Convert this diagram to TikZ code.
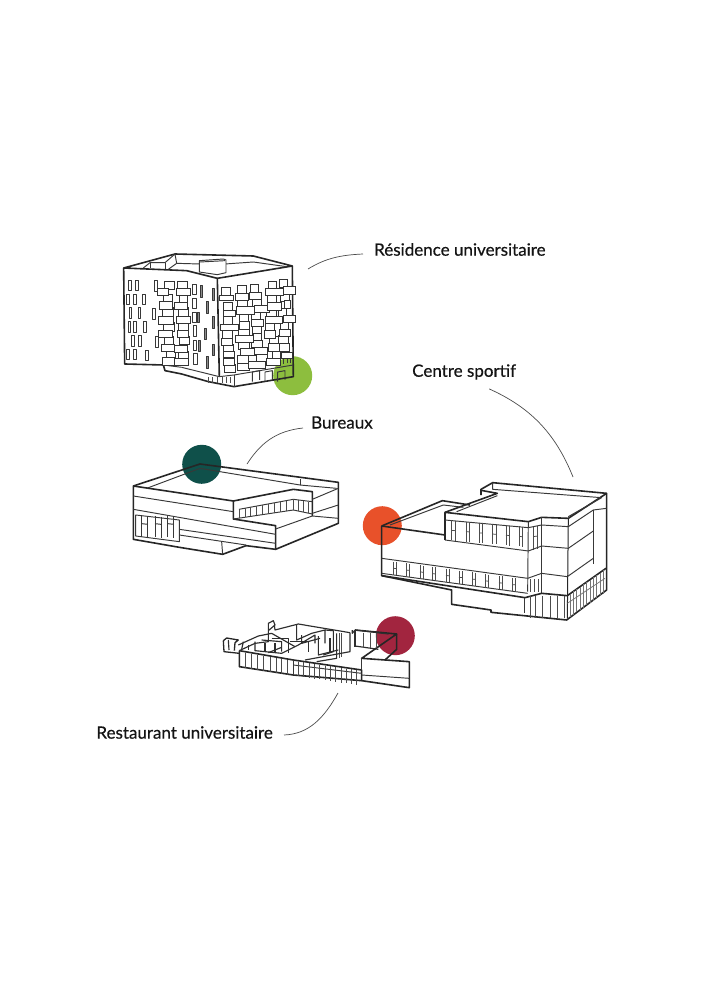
\documentclass[tikz,border=0pt]{standalone}
\usepackage{fontspec}
\setmainfont{Lato}
\tikzset{
  heavy/.style={line width=1.6pt,line join=round,black!85},
  thin line/.style={line width=.95pt,line join=round,black!78},
  inner line/.style={line width=1.15pt,line join=round,black!82},
  fine/.style={line width=.75pt,black!70},
  boxb/.style={line width=.95pt,black!80,fill=white},
  lab/.style={font=\fontsize{17}{20}\selectfont\addfontfeatures{FakeBold=0.45},text=black!92,inner xsep=11pt,inner ysep=0pt},
  leader/.style={line width=.7pt,black!70},
  spot/.style={circle,minimum size=39pt,inner sep=0pt}
}
\definecolor{cgreen}{HTML}{8DBE3E}
\definecolor{cteal}{HTML}{0F504A}
\definecolor{corange}{HTML}{E8512A}
\definecolor{cred}{HTML}{A2253F}
\begin{document}
\begin{tikzpicture}[x=1pt,y=-1pt]
\useasboundingbox (0,0) rectangle (707,1000);
\fill[white] (0,0) rectangle (707,1000);
% colour spots
\node[spot,fill=cgreen] (sgreen) at (292.7,375.7) {};
\node[spot,fill=cteal] (steal) at (201.7,464.3) {};
\node[spot,fill=corange] (sorange) at (382.3,525.7) {};
\node[spot,fill=cred] (sred) at (395.3,635.7) {};
% ---------- residence
\begin{scope}[shift={(110pt,-240pt)},x=.3333pt,y=-.3333pt]
\draw[heavy] (41,84)--(195,42)--(430,48)--(547,78)--(322,115)--(230,92)--cycle;
\draw[heavy] (41,84)--(44,372)--(160,375)--(165,392)--(215,402)--(295,425)--(372,440)--(550,410)--(547,78);
\draw[heavy] (322,115)--(328,410);
\draw[thin line] (100,84)--(120,68)--(165,68)--(195,42)--(200,70)--(270,72);
\draw[thin line] (165,68)--(165,88);
\draw[thin line] (120,68)--(120,84);
\draw[thin line] (200,70)--(175,88);
\draw[thin line] (345,72)--(430,66)--(530,80);
\draw[thin line,fill=white] (268,62)--(340,57)--(348,60)--(348,98)--(322,104)--(268,96)--cycle;
\draw[thin line] (270,66)--(345,62);
\draw[thin line] (215,382)--(328,410)--(372,405)--(550,375);
\draw[thin line] (160,375)--(215,382);
\draw[thin line] (372,405)--(372,440);
\foreach \a in {295,308,322,336,350,362} \draw[fine] (\a,412)--(\a,430);
\foreach \a in {427,465,503} \draw[thin line] (\a,425)--(\a,396)--(\a+22,392)--(\a+22,420);
\draw[thin line] (505,375)--(507,352);
\draw[thin line] (520,372)--(520,350);
\draw[thin line] (532,370)--(532,348);
\draw[thin line] (542,370)--(542,346);
\end{scope}
\begin{scope}[shift={(120pt,-270pt)},x=.3333pt,y=-.3333pt]
\foreach \a/\b/\c/\d in {25/30/8/32,46/30/8/32,19/72/8/32,41/72/8/32,68/72/9/32,27/113/8/32,54/113/8/32,24/155/8/33,41/155/8/33,70/155/9/33,35/196/8/32,56/196/8/32,19/238/8/30,41/238/8/30,77/240/9/30,102/32/10/32,97/115/9/32,106/198/9/33,218/42/11/32,218/84/11/32,218/127/11/30,219/167/11/32,219/210/11/32,220/250/11/32}
  \draw[thin line] (\a,\b) rectangle ++(\c,\d);
\foreach \a/\b/\c/\d in {242/47/6/34,276/56/6/34,260/95/6/34,232/128/6/30,276/140/6/34,253/175/6/34,234/212/6/32,276/222/6/34,258/260/6/34}
  \draw[thin line,fill=black!45] (\a,\b) rectangle ++(\c,\d);
\foreach \a/\b/\c/\d in {133/34/30/24,130/72/28/26,128/113/31/26,130/158/33/26,132/198/29/26,138/240/27/26,113/55/33/21,118/95/40/23,114/140/47/23,116/180/42/21,124/222/40/23,128/262/34/23,172/34/30/24,178/73/25/26,174/113/30/26,176/158/30/24,178/198/30/26,176/243/28/24,170/56/40/21,162/96/40/21,170/138/40/23,172/180/34/21,164/226/38/21,162/264/44/21}
  \draw[boxb] (\a,\b) rectangle ++(\c,\d);
\end{scope}
\begin{scope}[shift={(215pt,-270pt)},x=.3333pt,y=-.3333pt]
\foreach \a/\b/\c/\d in {18/53/29/27,24/98/27/25,26/140/25/23,22/180/29/25,26/223/29/25,28/283/33/23,68/46/25/27,68/88/29/23,72/128/29/29,70/173/33/25,70/214/33/23,66/256/35/23,106/42/25/27,112/86/27/23,108/124/29/25,112/168/27/25,114/190/25/23,110/210/33/23,124/250/33/23,160/34/25/25,158/76/27/25,154/118/29/23,150/158/27/27,162/200/27/23,160/220/33/23,192/28/25/25,196/70/27/25,208/90/17/25,190/114/25/27,196/155/25/25,190/196/31/25,194/220/29/25,
14/75/40/16,24/120/36/20,16/162/54/20,20/205/32/22,26/245/32/18,26/265/32/20,62/70/38/20,64/110/54/22,72/155/32/22,60/196/54/20,76/236/44/20,66/280/38/20,104/68/36/20,118/106/44/20,108/148/36/20,118/232/38/20,100/275/52/20,152/56/52/20,156/98/42/22,150/140/52/20,148/182/34/22,172/245/24/20,155/265/42/20,206/50/36/22,204/135/38/22,192/178/34/22,200/246/32/18}
  \draw[boxb] (\a,\b) rectangle ++(\c,\d);
\end{scope}
% ---------- bureaux
\begin{scope}[shift={(120pt,-440pt)},x=.3333pt,y=-.3333pt]
\draw[heavy] (40,138)--(240,72)--(655,127)--(655,250)--(467,328)--(467,257)--(340,237)--(340,183)--(520,148)--(577,155)--(577,228);
\draw[heavy] (340,183)--(40,138)--(40,298)--(178,322)--(308,343)--(378,317);
\draw[heavy] (378,317)--(467,328);
\draw[thin line] (80,145)--(240,85)--(540,135)--(650,145);
\draw[thin line] (540,118)--(540,135);
\draw[thin line] (40,168)--(340,215);
\draw[thin line] (40,208)--(467,283);
\draw[thin line] (467,267)--(577,228)--(655,235);
\draw[thin line] (577,178)--(655,145);
\draw[thin line] (577,220)--(655,195);
\draw[thin line] (178,268)--(467,310);
\draw[thin line] (178,285)--(378,315);
\draw[thin line] (305,305)--(308,343);
\draw[thin line] (47,225)--(178,240)--(178,305)--(47,288)--cycle;
\foreach \a in {65,105,143} {\draw[thin line] (\a,228)--(\a,292); \draw[thin line] (\a+18,230)--(\a+18,295); \draw[thin line] (\a,251)--(\a+18,253);}
\draw[thin line] (357,208)--(520,178)--(577,185);
\draw[thin line] (340,237)--(520,210)--(577,222);
\foreach \a/\b/\c in {357/208/234,375/205/231,392/202/229,410/199/226,428/195/223,446/192/221,464/189/218,482/185/215,500/182/213,520/178/210,535/181/213,550/183/216,565/185/219}
  \draw[fine] (\a,\b)--(\a,\c);
\end{scope}
% ---------- centre sportif
\begin{scope}[shift={(360pt,-475pt)},x=.3333pt,y=-.3333pt]
\draw[heavy] (65,153)--(247,77)--(330,90);
\draw[heavy] (65,153)--(255,180);
\draw[heavy] (65,153)--(65,302)--(275,345)--(275,388)--(393,405)--(393,412)--(620,435)--(740,345)--(740,55)--(398,23)--(363,43)--(363,60);
\draw[heavy] (255,195)--(255,112)--(412,55)--(363,46);
\draw[heavy] (255,112)--(505,140)--(545,127)--(625,130)--(740,55);
\draw[thin line] (398,23)--(398,43)--(725,68)--(625,125);
\draw[thin line] (290,110)--(412,62);
\draw[thin line] (90,150)--(250,90)--(310,97);
\draw[thin line] (255,135)--(505,158);
\draw[thin line] (255,195)--(505,228);
\foreach \a in {275,318,358,398,438,478} {\pgfmathsetmacro{\yy}{136+(\a-275)*.09}\draw[fine] (\a,\yy)--(\a,\yy+60);\draw[fine] (\a+10,\yy+1)--(\a+10,\yy+61);\draw[fine] (\a,\yy+30)--(\a+10,\yy+31);}
\draw[fine] (520,155)--(520,225);
\draw[fine] (533,152)--(533,222);
\draw[fine] (520,185)--(533,183);
\draw[thin line] (505,140)--(503,350);
\draw[thin line] (545,127)--(545,355);
\draw[heavy,line width=1pt] (625,130)--(622,430);
\draw[thin line] (505,158)--(545,150)--(625,155)--(700,105)--(740,100);
\draw[thin line] (505,228)--(545,213)--(625,220)--(700,168);
\draw[thin line] (503,310)--(545,295)--(622,305)--(700,250);
\draw[thin line] (700,105)--(700,268);
\draw[thin line] (65,250)--(503,310);
\draw[thin line] (65,295)--(503,355);
\draw[heavy] (65,302)--(495,368)--(545,355)--(622,362)--(738,280);
\foreach \a in {100,140,180,218,258,297,337,377,417,457} {\pgfmathsetmacro{\yy}{255+(\a-65)*.137}\draw[fine] (\a,\yy)--(\a,\yy+40);\draw[fine] (\a+9,\yy+1)--(\a+9,\yy+41);\draw[fine] (\a,\yy+20)--(\a+9,\yy+21);}
\foreach \a in {510,522,534} \draw[fine] (\a,312)--(\a,352);
\draw[thin line] (493,368)--(493,415);
\foreach \a in {510,527,547,570,592,612} \draw[fine] (\a,362)--(\a,428);
\foreach \a in {630,640,650,660,670,680,690,700,710,720,730} {\pgfmathsetmacro{\yy}{362-(\a-622)*.7}\draw[fine,black!55] (\a,\yy)--(\a,\yy+70);}
\draw[fine,black!55] (622,385)--(735,310);
\end{scope}
% ---------- restaurant
\begin{scope}[shift={(215pt,-610pt)},x=.3333pt,y=-.3333pt]
\draw[heavy] (73,122)--(235,150)--(440,180)--(440,212)--(583,233)--(583,155)--(440,145)--(545,72)--(420,60);
\draw[heavy] (73,122)--(73,170)--(235,195)--(440,212);
\draw[thin line] (235,150)--(235,195);
\draw[thin line] (440,145)--(440,180);
\draw[thin line] (440,195)--(583,205);
\draw[thin line] (235,165)--(440,190);
\draw[heavy] (510,150)--(545,118)--(545,72);
\foreach \a in {92,108,126,146,165,183,200,218} {\pgfmathsetmacro{\yy}{125+(\a-73)*.17}\draw[fine] (\a,\yy)--(\a,\yy+46);}
\foreach \a in {250,266,282,298,314,330,346,362,378,394,410,425} {\pgfmathsetmacro{\yy}{153+(\a-235)*.145}\draw[fine] (\a,\yy)--(\a,\yy+44);}
\draw[heavy,line width=1.3pt] (25,92)--(35,84)--(70,90)--(60,98)--(58,122);
\draw[heavy,line width=1.3pt] (25,92)--(27,125)--(73,130);
\draw[inner line] (40,90)--(42,120);
\draw[inner line] (85,95)--(80,118);
\draw[inner line] (73,122)--(120,100)--(160,95)--(160,40)--(175,32)--(180,45)--(160,62);
\draw[inner line] (178,45)--(180,60)--(250,42)--(405,68);
\draw[inner line] (70,105)--(130,78)--(170,70)--(240,110);
\draw[inner line] (120,95)--(120,122)--(200,130)--(250,105)--(300,75)--(300,100);
\draw[inner line] (140,90)--(200,95)--(200,125);
\draw[inner line] (170,85)--(220,85)--(220,130);
\draw[inner line] (245,45)--(245,90)--(290,70)--(330,60)--(330,100);
\draw[inner line] (260,75)--(260,100)--(315,85);
\draw[inner line] (310,78)--(310,135)--(370,120);
\draw[inner line] (330,60)--(355,62)--(355,125)--(325,135);
\draw[inner line] (345,85)--(345,130);
\draw[inner line] (365,70)--(365,145)--(305,155);
\draw[fine] (372,70)--(372,145);
\draw[fine] (380,70)--(380,140);
\draw[inner line] (405,68)--(405,125)--(270,150);
\draw[inner line] (420,60)--(420,110);
\draw[inner line] (412,60)--(412,70)--(420,60);
\draw[inner line] (420,108)--(490,118);
\foreach \a in {445,465,485} \draw[fine] (\a,68)--(\a,114);
\draw[inner line] (420,60)--(520,72);
\draw[inner line] (200,112)--(160,128);
\draw[inner line] (150,100)--(150,125);
\draw[inner line] (100,105)--(100,120);
\draw[inner line] (180,100)--(180,128);
\draw[inner line] (225,95)--(280,95)--(280,125);
\end{scope}
% ---------- labels and leaders
\node[lab,anchor=west] (lres) at (363,249.5) {Résidence universitaire};
\node[lab,anchor=west] (lcs) at (401,372) {Centre sportif};
\node[lab,anchor=west,inner xsep=8pt] (lbur) at (303,422.5) {Bureaux};
\node[lab,anchor=east] (lrest) at (284,732.5) {Restaurant universitaire};
\coordinate (eres) at (308,269);
\coordinate (ecs) at (573,477);
\coordinate (ebur) at (247,464);
\coordinate (erest) at (338,693);
\draw[leader] ([yshift=-4.5pt]lres.west) .. controls +(-22,1) and +(18,-11) .. (eres);
\draw[leader] ([xshift=25pt,yshift=-9pt]lcs.south) .. controls +(40,18) and +(-18,-45) .. (ecs);
\draw[leader] ([yshift=-5.5pt]lbur.west) .. controls +(-28,3) and +(13,-20) .. (ebur);
\draw[leader] ([yshift=-2.5pt]lrest.east) .. controls +(25,-1) and +(-14,25) .. (erest);
\end{tikzpicture}
\end{document}
